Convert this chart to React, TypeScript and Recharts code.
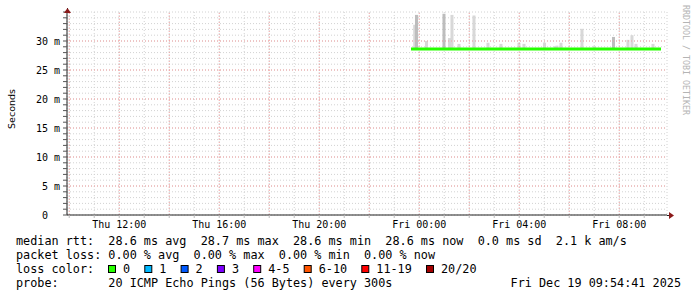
import {
  ComposedChart,
  Bar,
  Line,
  XAxis,
  YAxis,
  CartesianGrid,
  ReferenceLine,
} from 'recharts'

// time axis: hours since Thu 00:00, 24h window ending Fri 09:54:41
const X_START = 9.911
const X_END = 33.911
const X_LABEL_HOURS = [12, 16, 20, 24, 28, 32]
const X_LABEL_TEXT = ['Thu 12:00', 'Thu 16:00', 'Thu 20:00', 'Fri 00:00', 'Fri 04:00', 'Fri 08:00']
const X_MAJOR_HOURS = [10, 12, 14, 16, 18, 20, 22, 24, 26, 28, 30, 32]

const Y_LABEL_VALUES = [0, 5, 10, 15, 20, 25, 30]
const Y_LABEL_TEXT = ['0  ', '5 m', '10 m', '15 m', '20 m', '25 m', '30 m']
const Y_MAJOR = [5, 10, 15, 20, 25, 30]

// median rtt (ms)
const MEDIAN_HOURS = [23.671, 33.671]
const MEDIAN_RTT = [28.6, 28.6]

// smoke spikes: sample time, highest ping (ms), shade
const SMOKE_HOURS = [23.83, 23.9, 24.3, 25.0, 25.22, 25.32, 25.6, 26.2, 26.76, 27.28, 28.0, 28.2, 29.02, 29.46, 29.52, 29.68, 30.52, 31.02, 31.78, 32.36, 32.52, 32.68, 33.36]
const SMOKE_MAX = [32.8, 34.5, 30.0, 34.7, 30.5, 34.5, 29.5, 34.4, 29.7, 29.5, 29.7, 29.5, 29.7, 29.1, 29.2, 29.7, 32.1, 29.1, 30.7, 30.2, 31.0, 29.5, 29.5]
const SMOKE_SHADE = ['light', 'dark', 'light', 'dark', 'light', 'light', 'light', 'light', 'light', 'light', 'light', 'light', 'light', 'light', 'light', 'light', 'light', 'light', 'dark', 'light', 'light', 'light', 'light']

const LOSS_LABELS = ['0', '1', '2', '3', '4-5', '6-10', '11-19', '20/20']
const LOSS_COLORS = ['#26ff00', '#00b8ff', '#0059ff', '#7e00ff', '#ff00ff', '#ff5500', '#ff0000', '#a10000']

const LEGEND_LINES = [
  'median rtt:  28.6 ms avg  28.7 ms max  28.6 ms min  28.6 ms now  0.0 ms sd  2.1 k am/s',
  'packet loss: 0.00 % avg  0.00 % max  0.00 % min  0.00 % now',
  'loss color:',
  'probe:       20 ICMP Echo Pings (56 Bytes) every 300s',
]
const STAMP = 'Fri Dec 19 09:54:41 2025'

const MONO = "'DejaVu Sans Mono', monospace"
const CW = 7.1
const GRID = '#d2d2d2'
const MGRID = '#f2a0a0'

const rows = [
  ...SMOKE_HOURS.map((t, i) => ({ t, smoke: [MEDIAN_RTT[0], SMOKE_MAX[i]], shade: SMOKE_SHADE[i] })),
  ...MEDIAN_HOURS.map((t, i) => ({ t, median: MEDIAN_RTT[i] })),
].sort((a, b) => a.t - b.t)

const yGridTicks = Array.from({ length: 36 }, (_, i) => i)
const xGridTicks = Array.from({ length: 24 }, (_, i) => 10 + i)

function XTick({ x, y, payload }: any) {
  const idx = X_LABEL_HOURS.indexOf(payload.value)
  if (idx < 0) return null
  return (
    <text x={x} y={y + 8} textAnchor="middle" fontFamily={MONO} fontSize={10} fill="#000">
      {X_LABEL_TEXT[idx]}
    </text>
  )
}

function YTick({ y, payload }: any) {
  const idx = Y_LABEL_VALUES.indexOf(payload.value)
  if (idx < 0) return null
  return (
    <text x={60} y={y} dy="0.35em" textAnchor="end" fontFamily={MONO} fontSize={10} fill="#000" xmlSpace="preserve">
      {Y_LABEL_TEXT[idx]}
    </text>
  )
}

// smoke column: fixed 3px width centred on the sample time
function SmokeShape({ x, y, width, height, payload }: any) {
  if (height == null || isNaN(y)) return null
  const cx = x + width / 2
  const top = Math.min(y, y + height)
  return (
    <rect
      x={cx - 1.5}
      y={top}
      width={3}
      height={Math.abs(height)}
      fill={payload.shade === 'dark' ? '#bdbdbd' : '#d8d8d8'}
    />
  )
}

export default function App() {
  let cursor = 108
  const boxes = LOSS_LABELS.map((label, i) => {
    const bx = cursor
    cursor = bx + 15 + label.length * CW + 2 * CW
    return (
      <g key={label}>
        <rect x={bx + 0.5} y={265.5} width={7} height={7} fill={LOSS_COLORS[i]} stroke="#000" />
        <text x={bx + 15} y={273} fontFamily={MONO} fontSize={11.8} fill="#000">{label}</text>
      </g>
    )
  })

  return (
    <div style={{ position: 'absolute', left: 0, top: 0, width: 697, height: 297, background: '#fff' }}>
      <ComposedChart width={697} height={297} data={rows} margin={{ top: 12, right: 30, left: 0, bottom: 52 }}>
        <CartesianGrid stroke={GRID} strokeDasharray="1 2" />
        {Y_MAJOR.map((v) => (
          <ReferenceLine key={`y${v}`} y={v} stroke={MGRID} strokeDasharray="1 2" />
        ))}
        {X_MAJOR_HOURS.map((h) => (
          <ReferenceLine key={`x${h}`} x={h} stroke={MGRID} strokeDasharray="1 2" />
        ))}
        <XAxis
          dataKey="t"
          type="number"
          domain={[X_START, X_END]}
          ticks={xGridTicks}
          allowDataOverflow
          height={30}
          tickSize={3}
          tickMargin={2}
          tickLine={{ stroke: '#bbb' }}
          axisLine={{ stroke: '#222' }}
          tick={<XTick />}
          interval={0}
        />
        <YAxis
          type="number"
          domain={[0, 35]}
          ticks={yGridTicks}
          allowDataOverflow
          width={67}
          tickSize={4}
          tickLine={{ stroke: '#555' }}
          axisLine={{ stroke: '#222' }}
          tick={<YTick />}
          interval={0}
        />
        <Bar dataKey="smoke" barSize={1} shape={<SmokeShape />} isAnimationActive={false} />
        <Line
          dataKey="median"
          stroke={LOSS_COLORS[0]}
          strokeWidth={3}
          dot={false}
          connectNulls
          isAnimationActive={false}
        />
      </ComposedChart>
      <svg width={697} height={297} style={{ position: 'absolute', left: 0, top: 0, pointerEvents: 'none' }}>
        <line x1={667} y1={215.5} x2={670} y2={215.5} stroke="#222" />
        <polygon points="669,212 674,215.5 669,219" fill="#8b1a1a" />
        <line x1={67.5} y1={12} x2={67.5} y2={8} stroke="#222" />
        <polygon points="64,13 67.5,8 71,13" fill="#8b1a1a" />
        <text x={11} y={109} transform="rotate(-90 11 109)" textAnchor="middle" dominantBaseline="central"
          fontFamily="'DejaVu Sans', sans-serif" fontSize={9.5} fill="#000">
          Seconds
        </text>
        <text x={686} y={60} transform="rotate(90 686 60)" textAnchor="middle" dominantBaseline="central"
          fontFamily={MONO} fontSize={8.3} fill="#b4b4b4">
          RRDTOOL / TOBI OETIKER
        </text>
        {LEGEND_LINES.map((line, i) => (
          <text key={i} x={16} y={245 + i * 14} fontFamily={MONO} fontSize={11.8} fill="#000" xmlSpace="preserve">
            {line}
          </text>
        ))}
        {boxes}
        <text x={681} y={287} textAnchor="end" fontFamily={MONO} fontSize={11.8} fill="#000">{STAMP}</text>
      </svg>
    </div>
  )
}
